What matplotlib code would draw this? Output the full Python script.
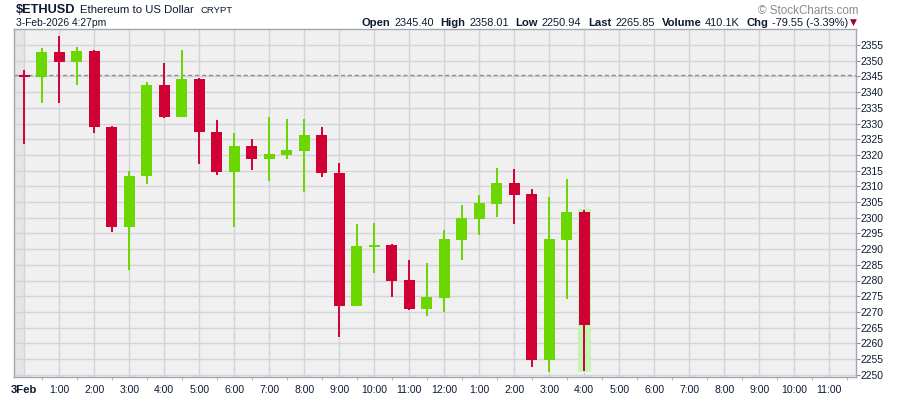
import matplotlib
matplotlib.use("Agg")
import matplotlib.pyplot as plt
import numpy as np

# ---------------- data ----------------
hours = [i * 0.5 for i in range(33)]  # 30-minute candles from 00:00 to 16:00
opens = [2345.40, 2344.9, 2352.8, 2349.7, 2353.1, 2329.0, 2297.1, 2313.3, 2342.3, 2332.2,
         2344.2, 2327.4, 2314.6, 2322.8, 2318.8, 2320.1, 2321.4, 2326.3, 2314.3, 2272.0,
         2290.7, 2291.3, 2280.2, 2270.9, 2274.5, 2293.0, 2299.7, 2304.5, 2311.1, 2307.5,
         2254.8, 2293.0, 2301.8]
highs = [2347.0, 2354.0, 2358.01, 2354.4, 2353.3, 2329.2, 2314.9, 2343.2, 2349.4, 2353.4,
         2344.5, 2331.1, 2327.0, 2325.1, 2332.1, 2331.4, 2331.4, 2328.9, 2317.4, 2298.0,
         2298.3, 2291.5, 2286.5, 2285.6, 2296.1, 2304.0, 2307.2, 2315.8, 2315.5, 2309.1,
         2306.6, 2312.3, 2302.5]
lows = [2323.5, 2336.6, 2336.6, 2342.4, 2326.9, 2295.5, 2283.3, 2310.8, 2331.9, 2332.0,
        2317.2, 2313.7, 2297.1, 2315.2, 2311.8, 2318.8, 2308.3, 2313.1, 2262.1, 2271.9,
        2282.4, 2274.9, 2270.6, 2268.8, 2270.1, 2286.6, 2294.6, 2300.3, 2298.1, 2252.6,
        2250.94, 2274.2, 2251.3]
closes = [2344.9, 2352.8, 2349.7, 2353.1, 2329.0, 2297.1, 2313.3, 2342.3, 2332.2, 2344.2,
          2327.4, 2314.6, 2322.8, 2318.8, 2320.3, 2321.6, 2326.3, 2314.3, 2272.0, 2291.0,
          2291.3, 2279.9, 2270.9, 2274.7, 2293.2, 2299.9, 2304.7, 2311.1, 2307.3, 2254.8,
          2293.2, 2301.8, 2265.85]
day_open = 2345.40

x_tick_hours = list(range(24))
x_tick_labels = ["3Feb", "1:00", "2:00", "3:00", "4:00", "5:00", "6:00", "7:00", "8:00",
                 "9:00", "10:00", "11:00", "12:00", "1:00", "2:00", "3:00", "4:00", "5:00",
                 "6:00", "7:00", "8:00", "9:00", "10:00", "11:00"]
y_ticks = list(range(2250, 2356, 5))

title_sym = "$ETHUSD"
title_name = "Ethereum to US Dollar"
title_exch = "CRYPT"
stamp = "3-Feb-2026 4:27pm"
header = [("Open", "2345.40"), ("High", "2358.01"), ("Low", "2250.94"),
          ("Last", "2265.85"), ("Volume", "410.1K"), ("Chg", "-79.55 (-3.39%)")]

# ---------------- style ----------------
RED = "#d10034"
GREEN = "#6cd600"
HILITE = "#c4f5b4"
BG = "#f0f0f0"
GRID = "#d2d4dc"
TXT = "#0d1a33"
SPINE = "#a2a6ae"

plt.rcParams["font.family"] = ["Liberation Sans", "DejaVu Sans"]

W, H = 900, 396
fig = plt.figure(figsize=(W / 100, H / 100), dpi=100)
L_px, R_px, T_px, B_px = 14, 856, 29, 377
ax = fig.add_axes([L_px / W, (H - B_px) / H, (R_px - L_px) / W, (B_px - T_px) / H])
ax.set_facecolor(BG)

x0_px, px_per_hour = 24.3, 35.0
ax.set_xlim((L_px - x0_px) / px_per_hour, (R_px - x0_px) / px_per_hour)
y_top_price, px_per_unit = 2355, 3.14
ax.set_ylim(y_top_price - (B_px - 45) / px_per_unit, y_top_price + (45 - T_px) / px_per_unit)

# pre-data shaded region
ax.axvspan(ax.get_xlim()[0], 0, color="#e5e5e5", lw=0, zorder=0)

# grid
for yv in y_ticks:
    ax.axhline(yv, color=GRID, lw=1.0, zorder=1)
for xv in x_tick_hours:
    ax.axvline(xv, color=GRID, lw=1.0, zorder=1)

# dashed line at day's open
ax.axhline(day_open, color="#8b8f97", lw=1.0, ls=(0, (3, 2)), zorder=2)

# candles
body_w = 0.315
min_body = 0.6
for i, (x, o, h, l, c) in enumerate(zip(hours, opens, highs, lows, closes)):
    col = GREEN if c >= o else RED
    if i == len(hours) - 1:
        ax.bar(x, (h + 0.3) - (l - 0.4), bottom=l - 0.4, width=0.37, color=HILITE, lw=0, zorder=2)
    ax.vlines(x, l, h, color=col, lw=1.4, zorder=3)
    bot = min(o, c)
    ht = max(abs(c - o), min_body)
    ax.bar(x, ht, bottom=bot, width=body_w, color=col, lw=0, zorder=4)

# axes styling
for s in ax.spines.values():
    s.set_color(SPINE)
    s.set_linewidth(1.0)
ax.yaxis.tick_right()
ax.set_yticks(y_ticks)
ax.set_yticklabels([str(v) for v in y_ticks])
ax.tick_params(axis="y", which="both", right=True, left=False, length=3, width=0.8,
               color="#8a8e96", pad=0.5, labelsize=7.4, labelcolor=TXT)
ax.set_xticks(x_tick_hours)
ax.set_xticklabels(x_tick_labels)
ax.set_xticks([h + 0.5 for h in x_tick_hours], minor=True)
ax.tick_params(axis="x", which="major", length=0, pad=5.5, labelsize=7.5, labelcolor=TXT)
ax.tick_params(axis="x", which="minor", length=2, width=0.8, color="#b0b4bc")
lbl0 = ax.get_xticklabels()[0]
lbl0.set_fontweight("bold")
lbl0.set_fontsize(8.2)

# ---------------- header ----------------
row1 = 1 - 13 / H
row2 = 1 - 26.5 / H
t1 = fig.text(16 / W, row1, title_sym, fontsize=9.2, fontweight="bold", color=TXT, va="baseline")
renderer = fig.canvas.get_renderer()
bb = t1.get_window_extent(renderer)
t2 = fig.text((bb.x1 + 5) / W, row1, title_name, fontsize=8.2, color=TXT, va="baseline")
bb = t2.get_window_extent(renderer)
fig.text((bb.x1 + 6) / W, row1, title_exch, fontsize=6.8, color=TXT, va="baseline")
fig.text(16 / W, row2, stamp, fontsize=7.4, color=TXT, va="baseline")

fig.text(858 / W, 1 - 14 / H, "\u00a9 StockCharts.com", fontsize=8.4, color="#8a8a8a",
         ha="right", va="baseline")

# right header, laid out right to left
xr = 857.0
tri = fig.text(xr / W, row2 + 0.003, "\u25bc", fontsize=6.5, color="#a0002a", ha="right",
               va="baseline", family=["DejaVu Sans"])
xr = tri.get_window_extent(renderer).x0 - 2
for lab, val in reversed(header):
    tv = fig.text(xr / W, row2, val, fontsize=7.9, color=TXT, ha="right", va="baseline")
    xr = tv.get_window_extent(renderer).x0 - 3.5
    tl = fig.text(xr / W, row2, lab, fontsize=8.1, fontweight="bold", color=TXT, ha="right",
                  va="baseline")
    xr = tl.get_window_extent(renderer).x0 - 7

fig.savefig("out.png", dpi=100, facecolor="white")
